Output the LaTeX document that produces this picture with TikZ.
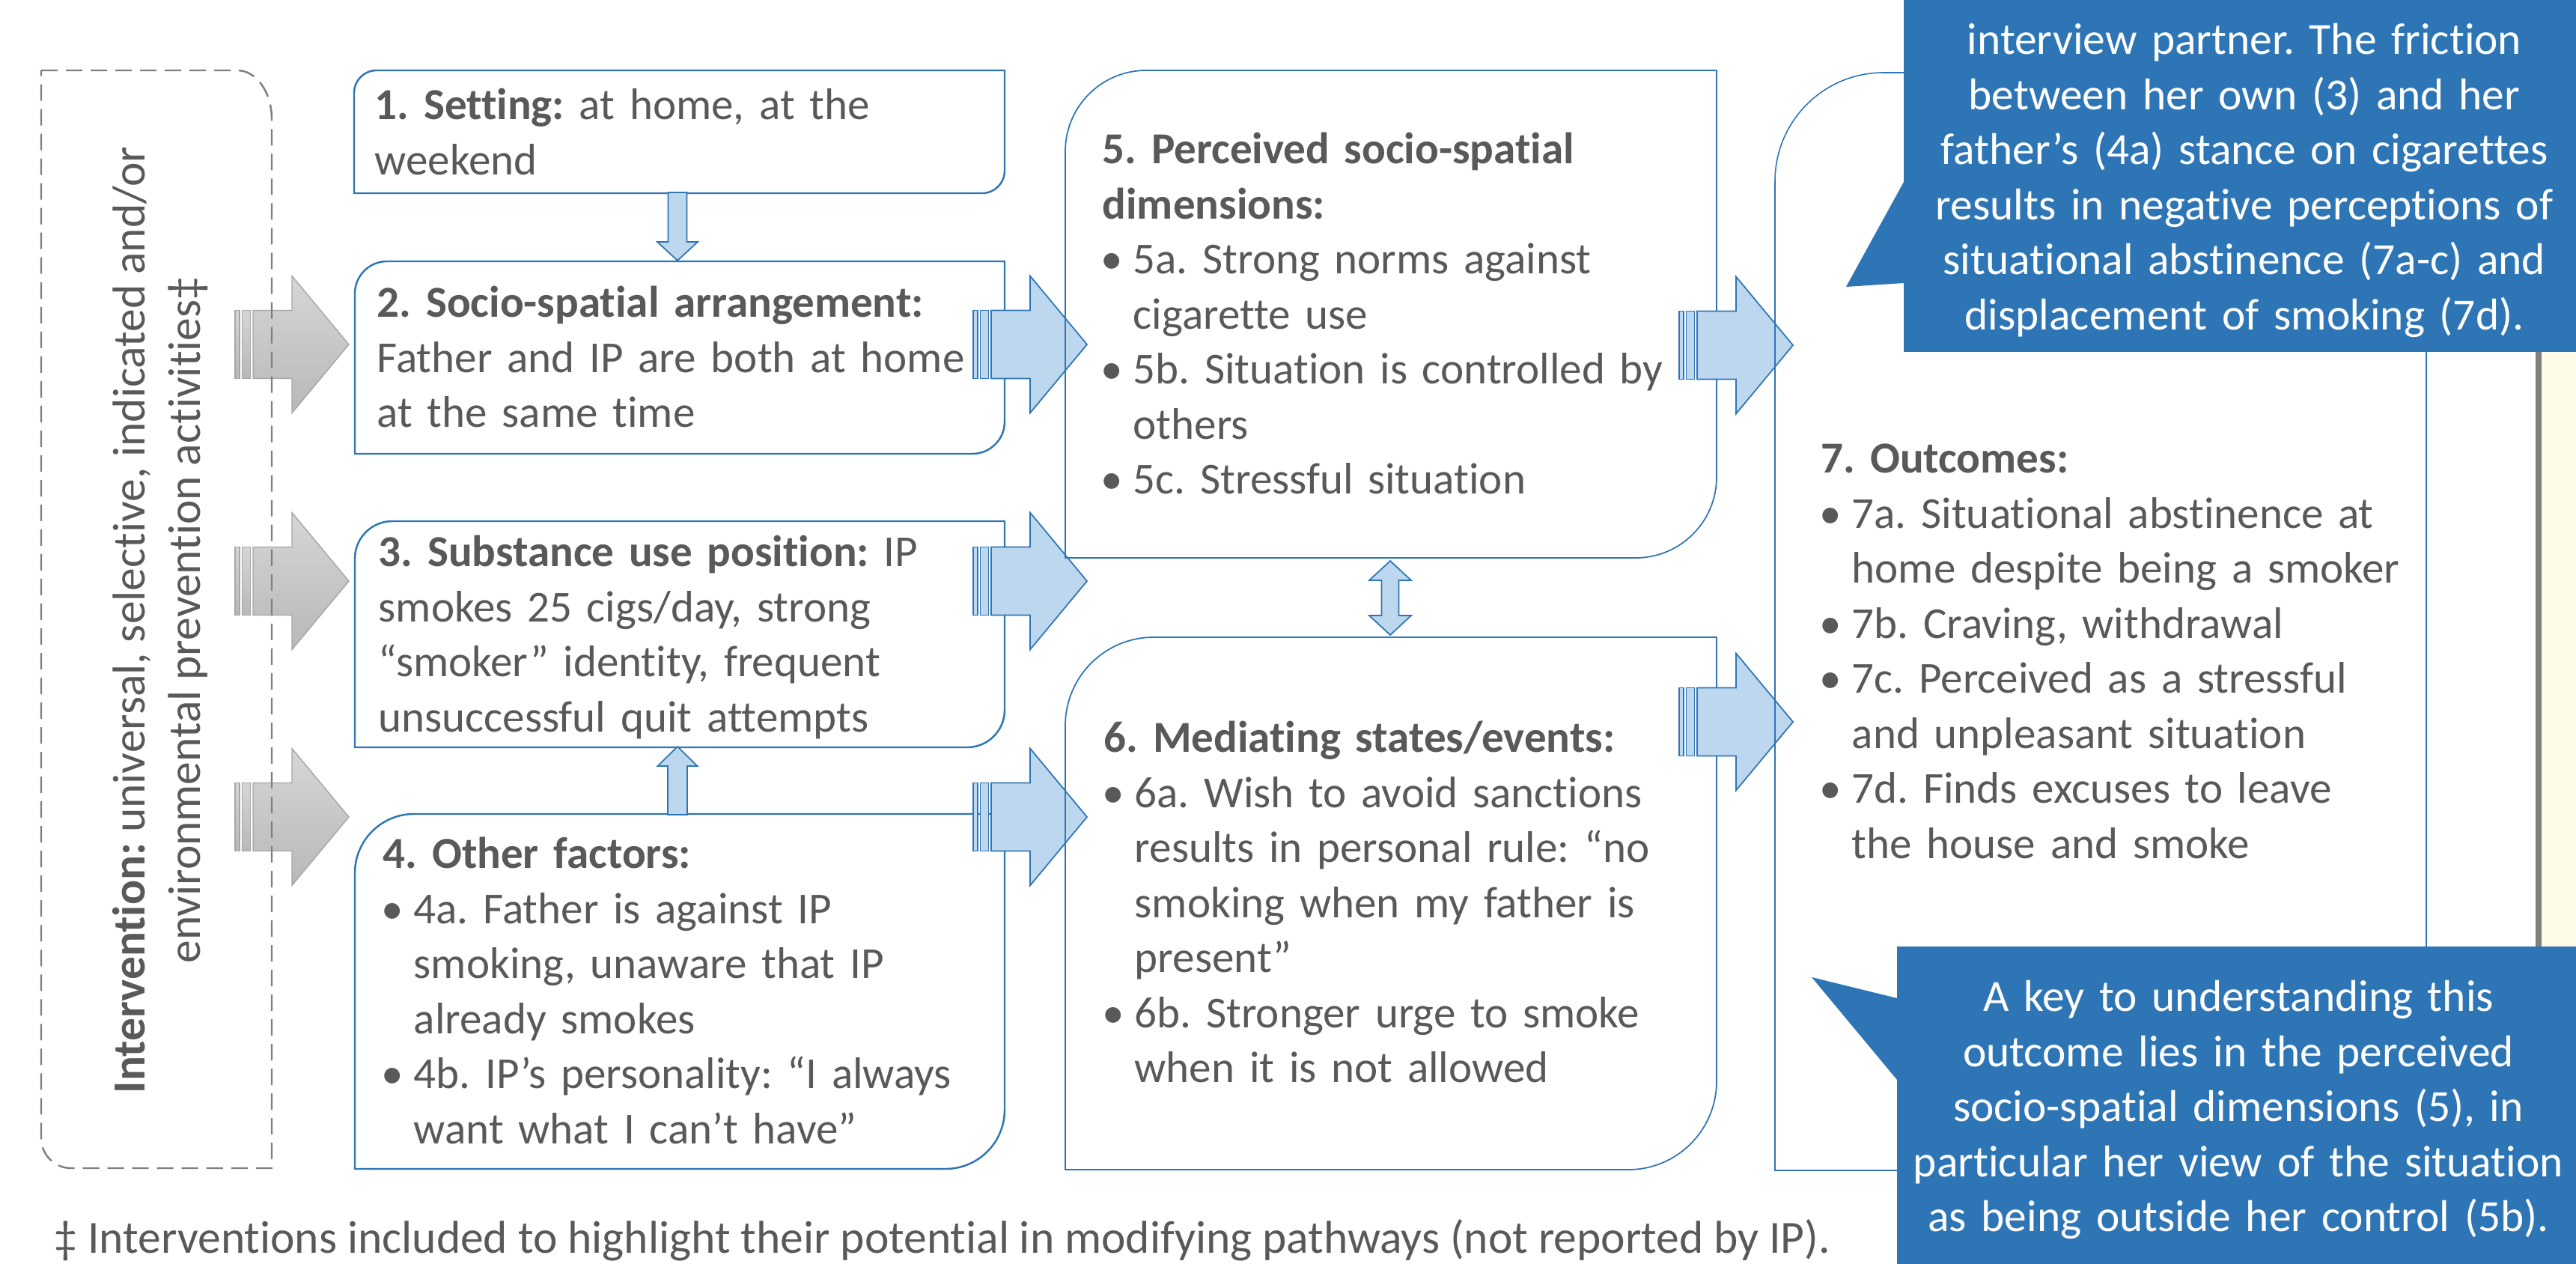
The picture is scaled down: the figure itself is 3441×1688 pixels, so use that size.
\documentclass[tikz,border=0pt]{standalone}
\usepackage{fontspec}
\setmainfont{Carlito}[Ligatures=CommonOff]
\definecolor{bord}{HTML}{2E75B6}
\definecolor{lblue}{HTML}{BDD7EE}
\definecolor{tgray}{HTML}{595959}
\definecolor{callout}{HTML}{2E75B6}
\definecolor{cream}{HTML}{FEFBE6}
\definecolor{dgray}{HTML}{7F7F7F}
\definecolor{gA}{HTML}{D6D6D6}
\definecolor{gB}{HTML}{B8B8B8}
\definecolor{gC}{HTML}{A6A6A6}
\newcommand\mainsize{\fontsize{16.8}{20.9}\selectfont\frenchspacing}
\newcommand\callsize{\fontsize{16.9}{20.9}\selectfont\frenchspacing}
\newcommand\bigsize{\fontsize{17.5}{20.9}\selectfont\frenchspacing}
\newcommand\ind{\hspace*{0.41cm}}
\newcommand\bul{\makebox[0.41cm][l]{\hspace*{-0.02cm}•}}
\tikzset{
  txt/.style={anchor=north west, inner sep=0pt, text width=10cm, align=left, font=\mainsize, text=tgray},
  ctxt/.style={anchor=north, inner sep=0pt, text width=9.8cm, align=center, font=\callsize, text=white},
  boxline/.style={draw=bord, line width=0.7pt},
  thinbox/.style={draw=bord, line width=0.5pt},
  barrow/.style={fill=lblue, draw=bord, line width=0.5pt},
  garrow/.style={top color=gA, bottom color=gB, draw=gC, line width=0.4pt},
  dashbox/.style={draw=dgray, line width=0.7pt, dash pattern=on 0.22cm off 0.11cm},
}
% style, x1, y1, x2, y2, r  (top-left and bottom-right rounded)
\newcommand\rdbox[6]{%
  \draw[#1] (#2,#3+#6) .. controls (#2,#3+0.4477*#6) and (#2+0.4477*#6,#3) .. (#2+#6,#3)
    -- (#4,#3) -- (#4,#5-#6) .. controls (#4,#5-0.4477*#6) and (#4-0.4477*#6,#5) .. (#4-#6,#5)
    -- (#2,#5) -- cycle;}
% style, x0, yc : striped right arrow
\newcommand\sarrow[3]{%
  \path[#1] (#2,#3-45.5) rectangle (#2+6,#3+45.5);
  \path[#1] (#2+9.5,#3-45.5) rectangle (#2+20.5,#3+45.5);
  \path[#1] (#2+24,#3-45.5) -- (#2+76,#3-45.5) -- (#2+76,#3-91.5) -- (#2+152,#3)
    -- (#2+76,#3+91.5) -- (#2+76,#3+45.5) -- (#2+24,#3+45.5) -- cycle;}
\begin{document}
\begin{tikzpicture}[x=0.01cm, y=-0.01cm]
\useasboundingbox (0,0) rectangle (3441,1688);
\clip (0,0) rectangle (3441,1688);
\fill[white] (0,0) rectangle (3441,1688);

% partly hidden box at the right edge
\path[fill=cream] (3391,100) rectangle (3520,1500);
\draw[dgray, line width=2.3pt] (3391,100) -- (3391,1500);

% intervention arrows
\sarrow{garrow}{314}{460}
\sarrow{garrow}{314}{776}
\sarrow{garrow}{314}{1091}

% intervention box
\draw[dashbox] (55,94) -- (317,94) .. controls (342.4,94) and (363,123.1) .. (363,159)
  -- (363,1560) -- (95,1560) .. controls (72.9,1560) and (55,1542.1) .. (55,1520) -- cycle;
\node[rotate=90, anchor=base, inner sep=0pt, font=\bigsize, text=tgray] (iv1) at (193,828)
  {\textbf{Intervention:} universal, selective, indicated and/or};
\node[rotate=90, anchor=base, inner sep=0pt, font=\bigsize, text=tgray] (iv2) at (267,828)
  {environmental prevention activities‡};

% column 1 boxes
\rdbox{boxline}{473}{94}{1342}{258}{30}
\rdbox{boxline}{474}{349}{1342}{606}{43}
\rdbox{boxline}{474}{696}{1342}{998}{50}
\rdbox{boxline}{474}{1087}{1342}{1561}{79}

% vertical arrows
\draw[barrow] (892.5,257) -- (917.5,257) -- (917.5,323) -- (932,323) -- (905,348)
  -- (878,323) -- (892.5,323) -- cycle;
\draw[barrow] (892,1088) -- (918,1088) -- (918,1023) -- (931.5,1023) -- (905,997)
  -- (878.5,1023) -- (892,1023) -- cycle;

% arrows into column 2
\sarrow{barrow}{1300}{460}
\sarrow{barrow}{1300}{776}
\sarrow{barrow}{1300}{1091}

% column 2 boxes
\rdbox{thinbox}{1423}{94}{2293}{745}{108}
\rdbox{thinbox}{1423}{851}{2293}{1562}{118}

% double arrow 5 <-> 6
\draw[barrow] (1857,749) -- (1885,775) -- (1868.5,775) -- (1868.5,822) -- (1885,822)
  -- (1857,848) -- (1829,822) -- (1845.5,822) -- (1845.5,775) -- (1829,775) -- cycle;

% arrows into column 3
\sarrow{barrow}{2243}{461}
\sarrow{barrow}{2243}{964}

% box 7
\draw[line width=0.45pt, draw=bord] (2371,1563) -- (2371,242)
  .. controls (2371,161.9) and (2435.9,97) .. (2516,97) -- (3241,97) -- (3241,1563) -- cycle;

% texts
\node[txt] (t1) at (500,159-51.4) {\strut\textbf{1. Setting:} at home, at the\\weekend};
\node[txt] (t2) at (503,423-51.4) {\strut\textbf{2. Socio-spatial arrangement:}\\Father and IP are both at home\\at the same time};
\node[txt] (t3) at (505,756-51.4) {\strut\textbf{3. Substance use position:} IP\\smokes 25 cigs/day, strong\\“smoker” identity, frequent\\unsuccessful quit attempts};
\node[txt] (t4) at (511,1159-51.4) {\strut\textbf{4. Other factors:}\\\bul 4a. Father is against IP\\\ind smoking, unaware that IP\\\ind already smokes\\\bul 4b. IP’s personality: “I always\\\ind want what I can’t have”};
\node[txt] (t5) at (1472,218-51.4) {\strut\textbf{5. Perceived socio-spatial}\\\textbf{dimensions:}\\\bul 5a. Strong norms against\\\ind cigarette use\\\bul 5b. Situation is controlled by\\\ind others\\\bul 5c. Stressful situation};
\node[txt] (t6) at (1474,1004-51.4) {\strut\textbf{6. Mediating states/events:}\\\bul 6a. Wish to avoid sanctions\\\ind results in personal rule: “no\\\ind smoking when my father is\\\ind present”\\\bul 6b. Stronger urge to smoke\\\ind when it is not allowed};
\node[txt] (t7) at (2432,631-51.4) {\strut\textbf{7. Outcomes:}\\\bul 7a. Situational abstinence at\\\ind home despite being a smoker\\\bul 7b. Craving, withdrawal\\\bul 7c. Perceived as a stressful\\\ind and unpleasant situation\\\bul 7d. Finds excuses to leave\\\ind the house and smoke};

% callouts
\fill[callout] (2543,-20) rectangle (3470,470);
\fill[callout] (2543,243) -- (2466,383) -- (2543,378) -- cycle;
\node[ctxt] (c1) at (2998,72-51.4) {\strut interview partner. The friction\\between her own (3) and her\\father’s (4a) stance on cigarettes\\results in negative perceptions of\\situational abstinence (7a-c) and\\displacement of smoking (7d).};
\fill[callout] (2534,1264) rectangle (3470,1710);
\fill[callout] (2534,1333) -- (2420,1305) -- (2534,1442) -- cycle;
\node[ctxt] (c2) at (2990,1350-51.4) {\strut A key to understanding this\\outcome lies in the perceived\\socio-spatial dimensions (5), in\\particular her view of the situation\\as being outside her control (5b).};

% footnote
\node[anchor=base west, inner sep=0pt, font=\bigsize, text=tgray] (fn) at (72,1673)
  {‡ Interventions included to highlight their potential in modifying pathways (not reported by IP).};
\end{tikzpicture}
\end{document}
